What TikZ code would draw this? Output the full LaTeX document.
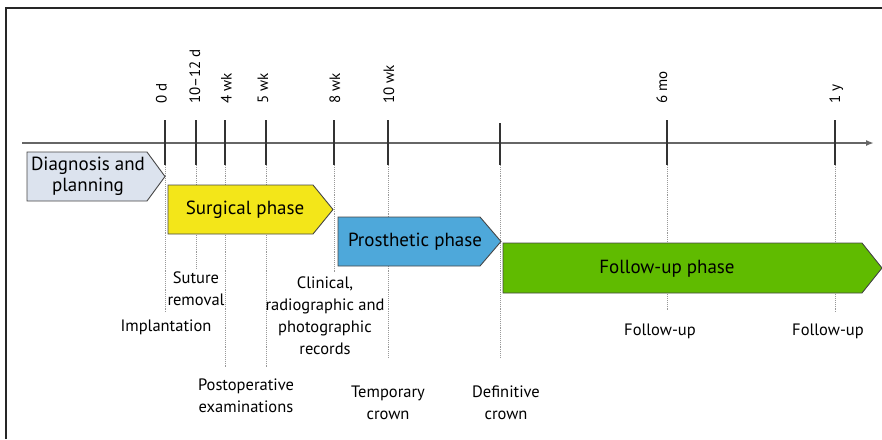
\documentclass[tikz,border=0pt]{standalone}
\usepackage{fontspec}
\setmainfont{PT Sans}
\usetikzlibrary{arrows.meta}
\definecolor{diagc}{RGB}{220,227,238}
\definecolor{surgc}{RGB}{243,230,25}
\definecolor{prosc}{RGB}{78,168,218}
\definecolor{follc}{RGB}{96,187,0}
\definecolor{edgec}{RGB}{70,70,70}
\begin{document}
\begin{tikzpicture}[x=1pt,y=-1pt,
  tickline/.style={line width=1.8pt,draw=black!80},
  guide/.style={densely dotted,line width=0.9pt,draw=black!40},
  phasebox/.style={draw=edgec,line width=0.9pt},
  phasetext/.style={font=\fontsize{19}{21}\selectfont,align=center,inner sep=0pt},
  ticklabel/.style={rotate=90,anchor=base west,font=\fontsize{15}{18}\selectfont,inner sep=0pt},
  eventlabel/.style={font=\fontsize{16.5}{22}\selectfont,align=center,inner sep=0pt,anchor=base}]
\useasboundingbox (0,0) rectangle (882,439);
% frame
\draw[line width=1.6pt,black!85] (6,439) -- (6,8) -- (882,8);
% axis
\coordinate (axL) at (22,143);
\coordinate (axR) at (874,143);
\draw[line width=1.8pt,black!60,-{Latex[length=8pt,width=6pt]}] (axL) -- (axR);
% guides
\foreach \x/\yb in {165/313,196/268,225/368,266/368,334/273,388/357,500/357,667/310,835/313}
  \draw[guide] (\x,165) -- (\x,\yb);
% ticks
\foreach \x in {165,196,225,266,334,388,667,835}
  \draw[tickline] (\x,120) -- (\x,165);
\draw[tickline] (500,123) -- (500,165);
% tick labels
\node[ticklabel] (t0) at (166.5,104) {0 d};
\node[ticklabel] (t1) at (200,104) {10–12 d};
\node[ticklabel] (t2) at (231.5,104) {4 wk};
\node[ticklabel] (t3) at (268,104) {5 wk};
\node[ticklabel] (t4) at (340,104) {8 wk};
\node[ticklabel] (t5) at (394,104) {10 wk};
\node[ticklabel] (t6) at (667,104) {6 mo};
\node[ticklabel] (t7) at (840,104) {1 y};
% phases
\draw[phasebox,fill=diagc] (27,152) -- (147,152) -- (165,176.5) -- (147,201) -- (27,201) -- cycle;
\node[phasetext] (diag) at (88,176) {Diagnosis and\\planning};
\draw[phasebox,fill=surgc] (168,185) -- (313,185) -- (333,209.5) -- (313,234) -- (168,234) -- cycle;
\node[phasetext] (surg) at (245,209.5) {Surgical phase};
\draw[phasebox,fill=prosc] (338,217) -- (480,217) -- (501,241.5) -- (480,266) -- (338,266) -- cycle;
\node[phasetext] (pros) at (415,241.5) {Prosthetic phase};
\draw[phasebox,fill=follc] (503,243) -- (862,243) -- (882,268) -- (862,293) -- (503,293) -- cycle;
\node[phasetext] (foll) at (667,268.5) {Follow-up phase};
% event labels (anchor = baseline of last line)
\node[eventlabel] (sut) at (196,305) {Suture\\removal};
\node[eventlabel] (imp) at (166,331) {Implantation};
\node[eventlabel] (cli) at (325,354) {Clinical,\\radiographic and\\photographic\\records};
\node[eventlabel] (post) at (246,412) {Postoperative\\examinations};
\node[eventlabel] (temp) at (388,419) {Temporary\\crown};
\node[eventlabel] (defi) at (506,419) {Definitive\\crown};
\node[eventlabel] (fu1) at (660,335) {Follow-up};
\node[eventlabel] (fu2) at (828,335) {Follow-up};
\end{tikzpicture}
\end{document}
